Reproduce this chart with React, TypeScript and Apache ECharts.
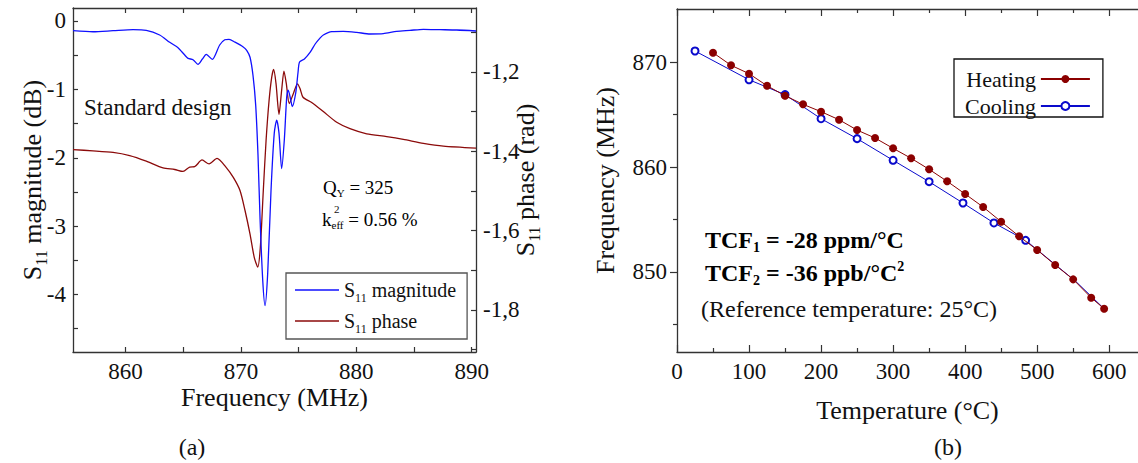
import React, { useEffect, useRef } from 'react';
import * as echarts from 'echarts';

const FONT = 'Liberation Serif, Times New Roman, Times, serif';

// ---------- Panel (a): S11 vs frequency ----------
const magFreqMHz = [855.45, 857.18, 858.92, 860.65, 861.8, 862.96, 863.83, 864.55, 865.13, 865.42, 865.85, 866.28, 866.66, 867.0, 867.52, 868.16, 868.6, 868.97, 869.49, 870.2, 870.5, 870.79, 871.05, 871.28, 871.48, 871.66, 871.89, 872.09, 872.32, 872.61, 872.89, 873.1, 873.3, 873.53, 873.76, 873.97, 874.1, 874.32, 874.45, 874.75, 874.95, 875.08, 875.5, 875.99, 876.42, 876.85, 877.14, 877.87, 878.87, 880.03, 881.19, 882.34, 883.5, 884.65, 885.81, 887.25, 888.7, 890.37];
const magDb = [-0.142, -0.157, -0.142, -0.127, -0.136, -0.205, -0.312, -0.39, -0.498, -0.546, -0.566, -0.634, -0.556, -0.488, -0.561, -0.351, -0.275, -0.268, -0.31, -0.38, -0.43, -0.53, -0.8, -1.23, -1.96, -2.9, -3.79, -4.16, -3.69, -2.47, -1.64, -1.45, -1.64, -2.16, -1.74, -1.11, -1.01, -1.157, -1.25, -1.05, -0.75, -0.6, -0.555, -0.46, -0.34, -0.25, -0.205, -0.156, -0.151, -0.166, -0.19, -0.185, -0.151, -0.137, -0.122, -0.127, -0.132, -0.146];
const phaseFreqMHz = [855.45, 857.18, 858.92, 860.36, 861.8, 863.25, 864.26, 864.98, 865.56, 865.99, 866.63, 867.24, 867.93, 868.7, 869.34, 869.92, 870.36, 870.79, 871.16, 871.46, 871.68, 871.94, 872.18, 872.44, 872.67, 872.84, 873.04, 873.3, 873.53, 873.73, 873.93, 874.19, 874.54, 874.9, 875.12, 875.38, 876.13, 877.14, 878.3, 879.45, 880.9, 882.63, 884.07, 885.81, 887.54, 890.37];
const phaseRad = [-1.396, -1.399, -1.403, -1.411, -1.425, -1.442, -1.446, -1.451, -1.44, -1.439, -1.422, -1.432, -1.418, -1.44, -1.466, -1.499, -1.55, -1.609, -1.668, -1.692, -1.643, -1.499, -1.373, -1.272, -1.213, -1.194, -1.229, -1.307, -1.246, -1.198, -1.229, -1.28, -1.255, -1.23, -1.242, -1.264, -1.277, -1.3, -1.327, -1.343, -1.356, -1.363, -1.37, -1.38, -1.387, -1.392];

const aXTicks = [860, 865, 870, 875, 880, 885, 890];
const aXLabels = [860, 870, 880, 890];
const aYTicks = [0, -0.5, -1, -1.5, -2, -2.5, -3, -3.5, -4, -4.5];
const aYLabels = [0, -1, -2, -3, -4];
const aY2Ticks = [-1.1, -1.2, -1.3, -1.4, -1.5, -1.6, -1.7, -1.8, -1.9];
const aY2Labels = [-1.2, -1.4, -1.6, -1.8];

// ---------- Panel (b): frequency vs temperature ----------
const heatTempC = [50, 75, 100, 125, 150, 175, 200, 225, 250, 275, 300, 325, 350, 375, 400, 425, 450, 475, 500, 525, 550, 575, 593];
const heatFreqMHz = [870.89, 869.69, 868.89, 867.74, 866.79, 865.97, 865.27, 864.5, 863.52, 862.76, 861.78, 860.83, 859.78, 858.64, 857.43, 856.19, 854.79, 853.4, 852.1, 850.67, 849.3, 847.55, 846.5];
const coolTempC = [25, 100, 150, 200, 250, 300, 350, 397, 440, 484, 554, 593];
const coolFreqMHz = [871.05, 868.31, 866.89, 864.6, 862.7, 860.64, 858.6, 856.57, 854.67, 853.02, 849.08, 846.5];
const coolHidden = [554, 593];

const bXMajor = [0, 100, 200, 300, 400, 500, 600];
const bXMinor = [50, 150, 250, 350, 450, 550];
const bYMajor = [850, 860, 870];
const bYMinor = [845, 855, 865];

const AXIS_COLOR = '#333';
const TEXT_COLOR = '#111';

function subRich(main: number, sub: number, pad: number, bold = false) {
  const fw = bold ? 'bold' : 'normal';
  return {
    m: { fontSize: main, fontFamily: FONT, fontWeight: fw, color: TEXT_COLOR, lineHeight: main },
    s: { fontSize: sub, fontFamily: FONT, fontWeight: fw, color: TEXT_COLOR, lineHeight: sub, padding: [pad, 0, 0, 0] },
    p: { fontSize: sub, fontFamily: FONT, fontWeight: fw, color: TEXT_COLOR, lineHeight: sub, padding: [0, 0, pad, 0] },
  };
}

function tickAxis(extra: any) {
  return {
    type: 'value',
    splitLine: { show: false },
    nameMoveOverlap: false,
    axisLine: { show: true, onZero: false, lineStyle: { color: AXIS_COLOR, width: 1.3 } },
    axisTick: { show: true, inside: true, length: 5, lineStyle: { color: AXIS_COLOR, width: 1.2 } },
    axisLabel: { show: false },
    ...extra,
  };
}

function labelStyle(extra: any) {
  return {
    show: true, fontSize: 23, fontFamily: FONT, fontWeight: 'normal', color: TEXT_COLOR,
    rich: { t: { fontSize: 23, fontFamily: FONT, color: TEXT_COLOR } },
    ...extra,
  };
}

export default function App() {
  const ref = useRef<HTMLDivElement>(null);
  useEffect(() => {
    if (!ref.current) return;
    const chart = echarts.init(ref.current, undefined, { renderer: 'svg' });
    const magData = magFreqMHz.map((f, i) => [f, magDb[i]]);
    const phaseData = phaseFreqMHz.map((f, i) => [f, phaseRad[i]]);
    const heatData = heatTempC.map((t, i) => [t, heatFreqMHz[i]]);
    const coolData = coolTempC.map((t, i) =>
      coolHidden.includes(t) ? { value: [t, coolFreqMHz[i]], symbol: 'none' } : [t, coolFreqMHz[i]]
    );
    const fmt = (v: number) => `{t|${String(v)}}`;
    const fmtComma = (v: number) => `{t|${v.toFixed(1).replace('.', ',')}}`;

    const option: any = {
      animation: false,
      backgroundColor: '#fff',
      textStyle: { fontFamily: FONT, color: TEXT_COLOR },
      grid: [
        { left: 73, top: 8, width: 403, height: 344 },
        { left: 677, top: 9, width: 462.4, height: 343 },
      ],
      xAxis: [
        tickAxis({
          gridIndex: 0, position: 'bottom', min: 855.45, max: 890.37,
          axisTick: { show: true, inside: true, length: 5, customValues: aXTicks, lineStyle: { color: AXIS_COLOR, width: 1.2 } },
          axisLabel: labelStyle({ customValues: aXLabels, margin: 8, formatter: fmt }),
          name: 'Frequency (MHz)', nameLocation: 'middle', nameGap: 32,
          nameTextStyle: { fontSize: 26, fontFamily: FONT, color: TEXT_COLOR },
        }),
        tickAxis({
          gridIndex: 0, position: 'top', min: 855.45, max: 890.37,
          axisTick: { show: true, inside: true, length: 5, customValues: aXTicks, lineStyle: { color: AXIS_COLOR, width: 1.2 } },
        }),
        tickAxis({
          gridIndex: 1, position: 'bottom', min: 0, max: 640,
          axisTick: { show: true, inside: true, length: 7, customValues: bXMajor, lineStyle: { color: AXIS_COLOR, width: 1.2 } },
          axisLabel: labelStyle({ customValues: bXMajor, margin: 8, formatter: fmt }),
          name: 'Temperature (°C)', nameLocation: 'middle', nameGap: 45,
          nameTextStyle: { fontSize: 26, fontFamily: FONT, color: TEXT_COLOR },
        }),
        tickAxis({
          gridIndex: 1, position: 'bottom', min: 0, max: 640,
          axisLine: { show: false },
          axisTick: { show: true, inside: true, length: 4, customValues: bXMinor, lineStyle: { color: AXIS_COLOR, width: 1.2 } },
        }),
        tickAxis({
          gridIndex: 1, position: 'top', min: 0, max: 640,
          axisTick: { show: true, inside: true, length: 7, customValues: bXMajor, lineStyle: { color: AXIS_COLOR, width: 1.2 } },
        }),
        tickAxis({
          gridIndex: 1, position: 'top', min: 0, max: 640,
          axisLine: { show: false },
          axisTick: { show: true, inside: true, length: 4, customValues: bXMinor, lineStyle: { color: AXIS_COLOR, width: 1.2 } },
        }),
      ],
      yAxis: [
        tickAxis({
          gridIndex: 0, position: 'left', min: -4.84, max: 0.19,
          axisTick: { show: true, inside: true, length: 5, customValues: aYTicks, lineStyle: { color: AXIS_COLOR, width: 1.2 } },
          axisLabel: labelStyle({ customValues: aYLabels, margin: 7, formatter: fmt }),
          name: '{m|S}{s|11}{m| magnitude (dB)}', nameLocation: 'middle', nameGap: 28,
          nameTextStyle: { rich: subRich(26, 16, 19) },
        }),
        tickAxis({
          gridIndex: 0, position: 'right', min: -1.906, max: -1.039,
          axisTick: { show: true, inside: true, length: 5, customValues: aY2Ticks, lineStyle: { color: AXIS_COLOR, width: 1.2 } },
          axisLabel: labelStyle({ customValues: aY2Labels, margin: 7, formatter: fmtComma }),
          name: '{m|S}{s|11}{m| phase (rad)}', nameLocation: 'middle', nameGap: 36,
          nameTextStyle: { rich: subRich(26, 16, 19) },
        }),
        tickAxis({
          gridIndex: 1, position: 'left', min: 842.38, max: 875.05,
          axisTick: { show: true, inside: false, length: 7, customValues: bYMajor, lineStyle: { color: AXIS_COLOR, width: 1.2 } },
          axisLabel: labelStyle({ customValues: bYMajor, margin: 10, formatter: fmt }),
          name: 'Frequency (MHz)', nameLocation: 'middle', nameGap: 59,
          nameTextStyle: { fontSize: 26, fontFamily: FONT, color: TEXT_COLOR },
        }),
        tickAxis({
          gridIndex: 1, position: 'left', min: 842.38, max: 875.05,
          axisLine: { show: false },
          axisTick: { show: true, inside: false, length: 4, customValues: bYMinor, lineStyle: { color: AXIS_COLOR, width: 1.2 } },
        }),
      ],
      legend: [
        {
          data: [
            { name: 'S11 magnitude', icon: 'rect' },
            { name: 'S11 phase', icon: 'rect' },
          ],
          orient: 'vertical', left: 286, top: 273,
          padding: [3, 11, 4, 9], itemGap: 3, itemWidth: 44, itemHeight: 1.4,
          borderColor: '#555', borderWidth: 1.3, backgroundColor: '#fff',
          formatter: (n: string) => n === 'S11 magnitude' ? '{m|S}{s|11}{m| magnitude}' : '{m|S}{s|11}{m| phase}',
          textStyle: { rich: subRich(20, 12, 16) },
        },
        {
          data: ['Heating', 'Cooling'],
          orient: 'vertical', left: 954, top: 59, align: 'right',
          padding: [9, 12, 0, 11], itemGap: 5, itemWidth: 49, itemHeight: 10,
          borderColor: '#111', borderWidth: 1.3, backgroundColor: '#fff',
          textStyle: { fontSize: 22, fontFamily: FONT, color: TEXT_COLOR, lineHeight: 22 },
        },
      ],
      series: [
        {
          name: 'S11 magnitude', type: 'line', xAxisIndex: 0, yAxisIndex: 0, data: magData,
          symbol: 'none', smooth: 0.25, color: '#1010ff', lineStyle: { width: 1.3, color: '#1010ff' }, z: 3,
        },
        {
          name: 'S11 phase', type: 'line', xAxisIndex: 0, yAxisIndex: 1, data: phaseData,
          symbol: 'none', smooth: 0.25, color: '#8b0a0a', lineStyle: { width: 1.3, color: '#8b0a0a' }, z: 2,
        },
        {
          name: 'Cooling', type: 'line', xAxisIndex: 2, yAxisIndex: 2, data: coolData,
          symbol: 'emptyCircle', symbolSize: 7, color: '#0a0acc',
          lineStyle: { width: 1, color: '#0a0acc' }, itemStyle: { color: '#0a0acc', borderWidth: 1.4, borderColor: '#0a0acc' }, z: 2,
        },
        {
          name: 'Heating', type: 'line', xAxisIndex: 2, yAxisIndex: 2, data: heatData,
          symbol: 'circle', symbolSize: 8, color: '#8b0000',
          lineStyle: { width: 1, color: '#8b0000' }, itemStyle: { color: '#8b0000' }, z: 3,
        },
      ],
      graphic: [
        { type: 'text', x: 84, y: 107, style: { text: 'Standard design', font: `23px ${FONT}`, fill: TEXT_COLOR, verticalAlign: 'middle' } },
        { type: 'text', x: 323, y: 187, style: { text: '{m|Q}{s|Y}{m| = 325}', rich: subRich(19, 11, 11), verticalAlign: 'middle' } },
        { type: 'text', x: 322, y: 219, style: { text: '{m|k}{s|eff}{m| = 0.56 %}', rich: subRich(19, 11, 11), verticalAlign: 'middle' } },
        { type: 'text', x: 334, y: 209, style: { text: '2', font: `11px ${FONT}`, fill: TEXT_COLOR, verticalAlign: 'middle' } },
        { type: 'text', x: 705, y: 240, style: { text: '{m|TCF}{s|1}{m| = -28 ppm/°C}', rich: subRich(24, 14, 14, true), verticalAlign: 'middle' } },
        { type: 'text', x: 705, y: 273, style: { text: '{m|TCF}{s|2}{m| = -36 ppb/°C}{p|2}', rich: subRich(24, 14, 14, true), verticalAlign: 'middle' } },
        { type: 'text', x: 701, y: 309, style: { text: '(Reference temperature: 25°C)', font: `24px ${FONT}`, fill: TEXT_COLOR, verticalAlign: 'middle' } },
        { type: 'text', x: 192, y: 447, style: { text: '(a)', font: `24px ${FONT}`, fill: TEXT_COLOR, align: 'center', verticalAlign: 'middle' } },
        { type: 'text', x: 948, y: 447, style: { text: '(b)', font: `24px ${FONT}`, fill: TEXT_COLOR, align: 'center', verticalAlign: 'middle' } },
      ],
    };
    chart.setOption(option);
    return () => chart.dispose();
  }, []);
  return <div ref={ref} style={{ position: 'absolute', left: 0, top: 0, width: 1138, height: 463 }} />;
}
